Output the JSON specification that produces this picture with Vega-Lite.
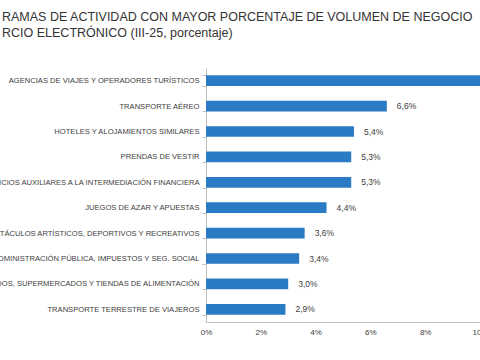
{
  "$schema": "https://vega.github.io/schema/vega-lite/v6.json",
  "autosize": {"type": "none"},
  "width": 274,
  "height": 254,
  "padding": {"left": 206, "top": 68, "right": 0, "bottom": 38},
  "background": "white",
  "config": {
    "view": {"stroke": null},
    "font": "Liberation Sans",
    "locale": {"number": {"decimal": ",", "thousands": ".", "grouping": [3], "currency": ["", " €"]}}
  },
  "title": {
    "text": ["RAMAS DE ACTIVIDAD CON MAYOR PORCENTAJE DE VOLUMEN DE NEGOCIO", "RCIO ELECTRÓNICO (III-25, porcentaje)"],
    "anchor": "start",
    "frame": "group",
    "dx": -204,
    "offset": 25,
    "fontSize": 12.5,
    "fontWeight": "normal",
    "color": "#333333",
    "lineHeight": 16,
    "font": "Liberation Sans"
  },
  "data": {
    "values": [
      {"rama": "AGENCIAS DE VIAJES Y OPERADORES TURÍSTICOS", "valor": 0.109},
      {"rama": "TRANSPORTE AÉREO", "valor": 0.066},
      {"rama": "HOTELES  Y ALOJAMIENTOS SIMILARES", "valor": 0.054},
      {"rama": "PRENDAS DE VESTIR", "valor": 0.053},
      {"rama": "SERVICIOS AUXILIARES A LA INTERMEDIACIÓN FINANCIERA", "valor": 0.053},
      {"rama": "JUEGOS DE AZAR Y APUESTAS", "valor": 0.044},
      {"rama": "ESPECTÁCULOS ARTÍSTICOS, DEPORTIVOS Y RECREATIVOS", "valor": 0.036},
      {"rama": "ADMINISTRACIÓN PÚBLICA, IMPUESTOS Y SEG. SOCIAL", "valor": 0.034},
      {"rama": "HIPERMERCADOS, SUPERMERCADOS Y TIENDAS DE ALIMENTACIÓN", "valor": 0.030},
      {"rama": "TRANSPORTE TERRESTRE DE VIAJEROS", "valor": 0.029}
    ]
  },
  "encoding": {
    "y": {
      "field": "rama",
      "type": "nominal",
      "sort": null,
      "title": null,
      "scale": {"paddingInner": 0.58, "paddingOuter": 0.29},
      "axis": {
        "labelFontSize": 7.6,
        "labelColor": "#404040",
        "labelPadding": 3,
        "labelLimit": 400,
        "tickBand": "extent",
        "tickSize": 4,
        "tickColor": "#bfbfbf",
        "domainColor": "#bfbfbf"
      }
    },
    "x": {
      "field": "valor",
      "type": "quantitative",
      "title": null,
      "scale": {"domain": [0, 0.1], "nice": false},
      "axis": {
        "format": ".0%",
        "values": [0, 0.02, 0.04, 0.06, 0.08, 0.1],
        "grid": false,
        "ticks": false,
        "labelFontSize": 8,
        "labelColor": "#404040",
        "labelPadding": 6,
        "domainColor": "#bfbfbf",
        "labelFlush": false
      }
    }
  },
  "layer": [
    {"mark": {"type": "bar", "color": "#2a7bc4", "clip": true}},
    {
      "mark": {"type": "text", "align": "left", "dx": 10, "fontSize": 8.5, "color": "#404040", "clip": true},
      "encoding": {"text": {"field": "valor", "type": "quantitative", "format": ".1%"}}
    }
  ]
}
